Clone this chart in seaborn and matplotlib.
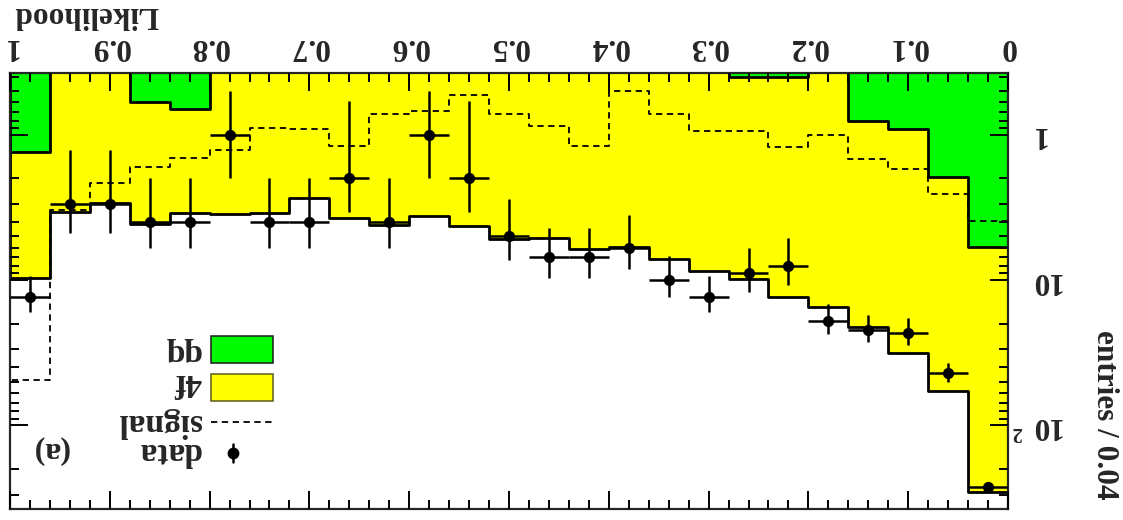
import numpy as np
import pandas as pd
import matplotlib
matplotlib.use("Agg")
import matplotlib.pyplot as plt
import matplotlib.transforms as mtransforms
from matplotlib.patches import Rectangle
from matplotlib.lines import Line2D
from matplotlib.ticker import MultipleLocator, FixedLocator, LogLocator, NullFormatter, FuncFormatter
import seaborn as sns

# 25 likelihood bins of width 0.04, listed from L = 0 upward
n_bins = 25
l_range = (0.0, 1.0)
bin_edges = np.linspace(l_range[0], l_range[1], n_bins + 1)
bin_centers = 0.5 * (bin_edges[:-1] + bin_edges[1:])

qq_bkg = [5.95, 1.94, 0.92, 0.80, 0.0, 0.40, 0.40, 0.0, 0.0, 0.0, 0.0, 0.0, 0.0,
          0.0, 0.0, 0.0, 0.0, 0.0, 0.0, 0.0, 0.67, 0.60, 0.0, 0.0, 1.32]
fourf_bkg = [282.0, 56.1, 30.8, 20.2, 15.3, 12.6, 9.5, 8.63, 7.2, 5.89, 6.08, 5.11, 5.24,
             4.24, 3.60, 4.18, 3.75, 2.73, 3.47, 3.52, 2.80, 3.51, 2.93, 3.38, 8.42]
signal_mc = [3.92, 2.55, 1.72, 1.47, 1.00, 1.22, 0.94, 0.94, 0.72, 0.50, 1.19, 0.876, 0.72,
             0.53, 0.69, 0.72, 1.19, 0.91, 0.90, 1.27, 1.45, 1.67, 2.15, 3.29, 48.8]
data_counts = [266, 44, 23, 22, 19, 8, 9, 13, 10, 6, 7, 7, 5,
               2, 1, 4, 2, 4, 4, 1, 4, 4, 3, 3, 13]

x_ticks = [0.0, 0.1, 0.2, 0.3, 0.4, 0.5, 0.6, 0.7, 0.8, 0.9, 1.0]
y_ticks = [1, 10, 100]
y_tick_labels = ["1", "10", "10"]
y_range = (0.376, 374.0)

legend_entries = ["qq", "4f", "signal", "data"]

GREEN = "#00fa00"
YELLOW = "#ffff00"

df = pd.DataFrame({
    "L": bin_centers,
    "qq": qq_bkg,
    "fourf": fourf_bkg,
    "signal": signal_mc,
    "data": data_counts,
})
df["stack"] = df["qq"] + df["fourf"]
n = df["data"].to_numpy(dtype=float)
err_hi = np.sqrt(n)
err_lo = np.where(n > 1, np.sqrt(n), n - 0.5)

sns.set_theme(style="ticks")
plt.rcParams["font.family"] = ["Liberation Serif", "DejaVu Serif"]
plt.rcParams["font.weight"] = "bold"
plt.rcParams["axes.linewidth"] = 1.6

fig = plt.figure(figsize=(11.23, 5.2), dpi=100)
ax = fig.add_axes([0.0089, 0.0221, 0.8887, 0.8375])
ax.set_yscale("log")

hist_kw = dict(x="L", bins=n_bins, binrange=l_range, element="step", ax=ax)
# stacked background: total (4f + qq) first, qq drawn over it
sns.histplot(data=df, weights="stack", fill=True, color=YELLOW, alpha=1.0,
             edgecolor="black", linewidth=2.0, **hist_kw)
sns.histplot(data=df, weights="qq", fill=True, color=GREEN, alpha=1.0,
             edgecolor="black", linewidth=2.0, **hist_kw)
# signal expectation
sns.histplot(data=df, weights="signal", fill=False, color="black", linewidth=1.3,
             linestyle=(0, (3.5, 2.5)), **hist_kw)
# data with Poisson errors
ax.errorbar(df["L"], df["data"], xerr=0.02, yerr=[err_lo, err_hi], fmt="none",
            ecolor="black", elinewidth=1.8, capsize=0, zorder=3)
sns.scatterplot(data=df, x="L", y="data", color="black", s=65, marker="o",
                edgecolor="black", linewidth=0, zorder=4, ax=ax)

ax.set_xlim(1.0, 0.0)
ax.set_ylim(y_range[1], y_range[0])
ax.set_xlabel("")
ax.set_ylabel("")

ax.xaxis.set_major_locator(FixedLocator(x_ticks))
ax.xaxis.set_minor_locator(MultipleLocator(0.02))
ax.xaxis.set_major_formatter(FuncFormatter(lambda v, p: f"{v:g}"))
ax.yaxis.set_major_locator(FixedLocator(y_ticks))
ax.yaxis.set_minor_locator(LogLocator(base=10, subs=np.arange(2, 10)))
ax.yaxis.set_minor_formatter(NullFormatter())
ax.set_yticklabels(y_tick_labels)

ax.tick_params(axis="x", which="both", direction="in", top=True, bottom=True,
               labeltop=True, labelbottom=False, width=1.4, color="black")
ax.tick_params(axis="x", which="major", length=13, labelsize=22.5, labelrotation=180, pad=9)
ax.tick_params(axis="x", which="minor", length=6.5)
ax.tick_params(axis="y", which="both", direction="in", left=True, right=True,
               labelleft=False, labelright=True, width=1.4, color="black")
ax.tick_params(axis="y", which="major", length=13, labelsize=22.5, labelrotation=180, pad=15.5)
ax.tick_params(axis="y", which="minor", length=6.5)
for lab in ax.get_xticklabels() + ax.get_yticklabels():
    lab.set_fontweight("bold")
for lab in ax.get_yticklabels():
    lab.set_verticalalignment("center")
ax.set_axisbelow(False)

# exponent of the 10^2 label
exp_tr = mtransforms.offset_copy(
    mtransforms.blended_transform_factory(ax.transAxes, ax.transData),
    fig=fig, x=0, y=-5, units="points")
ax.text(1.009, 100, "2", transform=exp_tr, rotation=180, ha="center", va="center",
        fontsize=15, fontweight="bold")

# axis titles
ax.text(0.004, 1.152, "Likelihood", transform=ax.transAxes, rotation=180,
        rotation_mode="anchor", ha="right", va="baseline", fontsize=22.5, fontweight="bold")
ax.text(1.0892, 0.0195, "entries / 0.04", transform=ax.transAxes, rotation=270,
        rotation_mode="anchor", ha="right", va="baseline", fontsize=22.5, fontweight="bold")

# legend
ax.add_patch(Rectangle((0.2014, 0.3348), 0.0621, 0.0613, transform=ax.transAxes,
                       facecolor=GREEN, edgecolor="#1a1a1a", linewidth=1.1, zorder=5))
ax.add_patch(Rectangle((0.2014, 0.2476), 0.0621, 0.0606, transform=ax.transAxes,
                       facecolor=YELLOW, edgecolor="#5a5a20", linewidth=1.1, zorder=5))
ax.add_line(Line2D([0.2014, 0.2635], [0.1993, 0.1993], transform=ax.transAxes,
                   color="black", linewidth=1.3, linestyle=(0, (3.5, 2.5)), zorder=5))
ax.add_line(Line2D([0.2231, 0.2231], [0.1075, 0.1481], transform=ax.transAxes,
                   color="black", linewidth=1.8, zorder=5))
ax.add_line(Line2D([0.2231], [0.1281], transform=ax.transAxes, marker="o",
                   markersize=7.5, color="black", linestyle="none", zorder=6))
legend_baselines = [0.378, 0.309, 0.217, 0.150]
for label, yb in zip(legend_entries, legend_baselines):
    ax.text(0.1914, yb, label, transform=ax.transAxes, rotation=180,
            rotation_mode="anchor", ha="left", va="baseline", fontsize=24,
            fontweight="bold", zorder=6)
ax.text(0.059, 0.150, "(a)", transform=ax.transAxes, rotation=180,
        rotation_mode="anchor", ha="left", va="baseline", fontsize=23,
        fontweight="bold", zorder=6)

fig.savefig("out.png", dpi=100)
